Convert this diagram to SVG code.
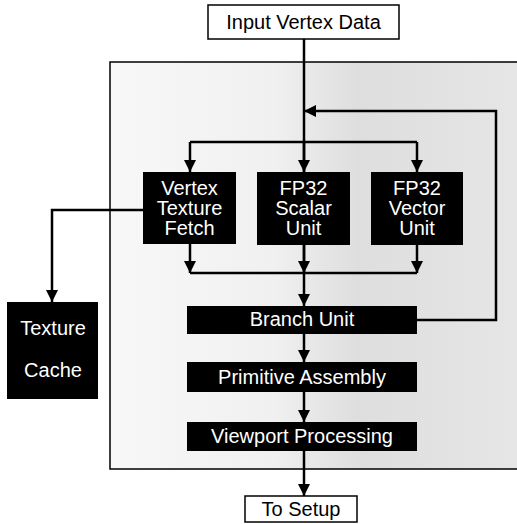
<svg xmlns="http://www.w3.org/2000/svg" width="517" height="524" viewBox="0 0 517 524">
<defs>
<linearGradient id="bg" x1="0" y1="0" x2="1" y2="0">
<stop offset="0" stop-color="#f8f8f8"/>
<stop offset="0.4" stop-color="#f0f0f0"/>
<stop offset="0.6" stop-color="#dedede"/>
<stop offset="1" stop-color="#e6e6e6"/>
</linearGradient>
<marker id="ah" viewBox="0 0 12 12" refX="12" refY="6" markerWidth="12" markerHeight="12" markerUnits="userSpaceOnUse" orient="auto">
<path d="M0,0 L12,6 L0,12 Z" fill="#000"/>
</marker>
<style>
.blk{fill:#000;}
.wt{fill:#fff;font-family:"Liberation Sans",Arial,sans-serif;font-size:20px;text-anchor:middle;}
.bt{fill:#000;font-family:"Liberation Sans",Arial,sans-serif;font-size:20px;text-anchor:middle;}
.wbox{fill:#fff;stroke:#000;stroke-width:1.5;}
.ln{fill:none;stroke:#000;stroke-width:2.5;}
.arr{fill:none;stroke:#000;stroke-width:2.5;marker-end:url(#ah);}
</style>
</defs>
<rect x="0" y="0" width="517" height="524" fill="#fff"/>
<g id="container">
<rect x="110" y="62" width="412" height="407" fill="url(#bg)" stroke="#000" stroke-width="1.5"/>
</g>
<g id="connectors">
<path class="ln" d="M304,39 V273"/>
<path class="arr" d="M304,273 V306"/>
<path class="ln" d="M190,142 H417"/>
<path class="arr" d="M190,142 V172"/>
<path class="arr" d="M304,142 V172"/>
<path class="arr" d="M417,142 V172"/>
<path class="arr" d="M417,320 H496 V111 H304"/>
<path class="ln" d="M190,273 H417"/>
<path class="arr" d="M190,244 V273"/>
<path class="arr" d="M304,245 V273"/>
<path class="arr" d="M417,245 V273"/>
<path class="arr" d="M236,210 H52 V302"/>
<path class="arr" d="M304,334 V362"/>
<path class="arr" d="M304,392 V422"/>
<path class="arr" d="M304,451 V496"/>
</g>
<g id="input">
<rect class="wbox" x="208" y="5" width="191" height="34"/>
<text class="bt" x="303.5" y="29">Input Vertex Data</text>
</g>
<g id="vtf">
<rect class="blk" x="143" y="172" width="93" height="72"/>
<text class="wt" x="189.5" y="195">Vertex</text>
<text class="wt" x="189.5" y="215">Texture</text>
<text class="wt" x="189.5" y="235">Fetch</text>
</g>
<g id="scalar">
<rect class="blk" x="257" y="172" width="93" height="73"/>
<text class="wt" x="303.5" y="195">FP32</text>
<text class="wt" x="303.5" y="215">Scalar</text>
<text class="wt" x="303.5" y="235">Unit</text>
</g>
<g id="vector">
<rect class="blk" x="371" y="172" width="92" height="73"/>
<text class="wt" x="417" y="195">FP32</text>
<text class="wt" x="417" y="215">Vector</text>
<text class="wt" x="417" y="235">Unit</text>
</g>
<g id="texcache">
<rect class="blk" x="7" y="302" width="91" height="97"/>
<text class="wt" x="53" y="335">Texture</text>
<text class="wt" x="53" y="377">Cache</text>
</g>
<g id="branch">
<rect class="blk" x="187" y="306" width="230" height="28"/>
<text class="wt" x="302" y="326">Branch Unit</text>
</g>
<g id="primitive">
<rect class="blk" x="187" y="362" width="230" height="30"/>
<text class="wt" x="302" y="384">Primitive Assembly</text>
</g>
<g id="viewport">
<rect class="blk" x="187" y="422" width="230" height="29"/>
<text class="wt" x="302" y="443">Viewport Processing</text>
</g>
<g id="setup">
<rect class="wbox" x="245" y="496" width="112" height="26"/>
<text class="bt" x="301" y="516">To Setup</text>
</g>
</svg>
